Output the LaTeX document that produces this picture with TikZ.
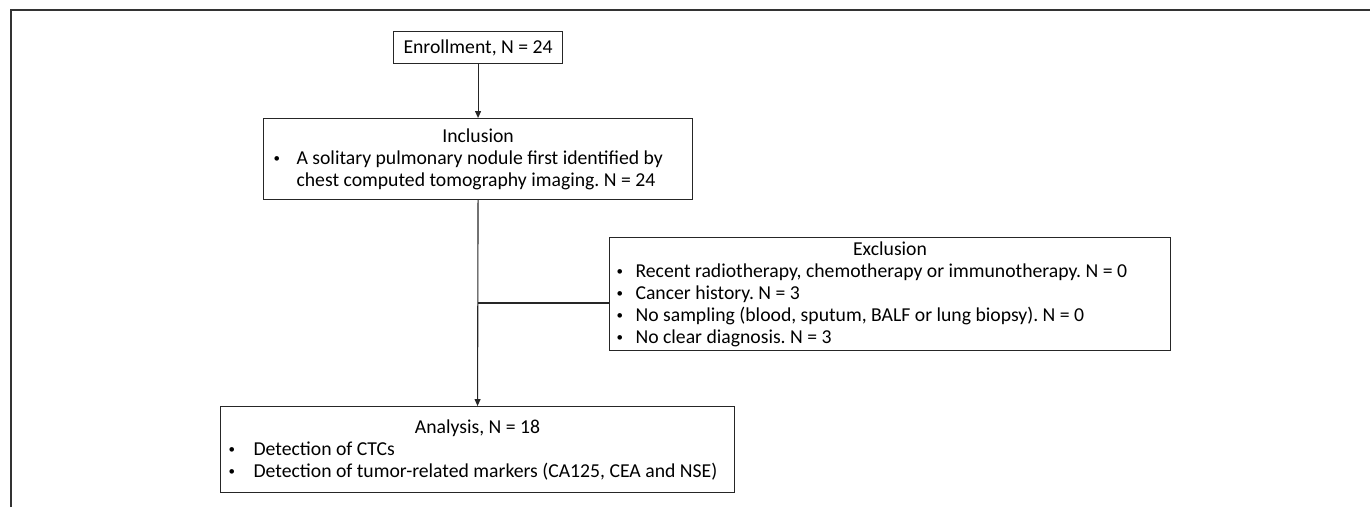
\documentclass[tikz,border=0pt]{standalone}
\usepackage{fontspec}
\setmainfont{Carlito}
\frenchspacing
\usetikzlibrary{arrows.meta}
\tikzset{
  box/.style={draw=black!85, line width=1.1pt, rectangle, inner sep=0pt, anchor=north west,
    font=\fontsize{19.7}{22}\selectfont},
  link/.style={draw=black!85, line width=1.1pt},
  arr/.style={link, -{Triangle[length=7pt,width=6pt]}},
  frame/.style={draw=black!80, line width=1.6pt}
}
\newcommand{\smallbul}{{\fontsize{13}{13}\selectfont\raisebox{2pt}{\textbullet}}}
\newcommand{\bul}[3]{\hspace*{#1pt}\makebox[#2pt][l]{\smallbul}#3}
\begin{document}
\begin{tikzpicture}[x=1pt,y=-1pt]
\useasboundingbox (0,0) rectangle (1370,507);
\coordinate (fb) at (11,507);
\coordinate (fc) at (11,10);
\coordinate (fr) at (1370,10);
\draw[frame] (fb) -- (fc) -- (fr);

\node[box, minimum width=169pt, minimum height=32pt] (enr) at (393,31) {Enrollment, N = 24};

\node[box, minimum width=429pt, minimum height=81pt] (inc) at (263,118) {\parbox{429pt}{%
\centering Inclusion\par
\raggedright
\bul{10}{23}{A solitary pulmonary nodule first identified by}\\
\hspace*{33pt}chest computed tomography imaging. N = 24}};

\node[box, minimum width=561pt, minimum height=113pt] (exc) at (609,237) {\parbox{561pt}{%
\centering Exclusion\par
\raggedright
\bul{7}{19}{Recent radiotherapy, chemotherapy or immunotherapy. N = 0}\\
\bul{7}{19}{Cancer history. N = 3}\\
\bul{7}{19}{No sampling (blood, sputum, BALF or lung biopsy). N = 0}\\
\bul{7}{19}{No clear diagnosis. N = 3}}};

\node[box, minimum width=514pt, minimum height=86pt] (ana) at (220,406) {\parbox{514pt}{%
\centering Analysis, N = 18\par
\raggedright
\bul{8}{25}{Detection of CTCs}\\
\bul{8}{25}{Detection of tumor-related markers (CA125, CEA and NSE)}}};

\draw[arr] (enr.south) -- (inc.north);
\draw[arr] (inc.south) -- (ana.north);
\coordinate (j) at (inc.south |- 0,303);
\draw[link] (j) -- (j -| exc.west);
\end{tikzpicture}
\end{document}
